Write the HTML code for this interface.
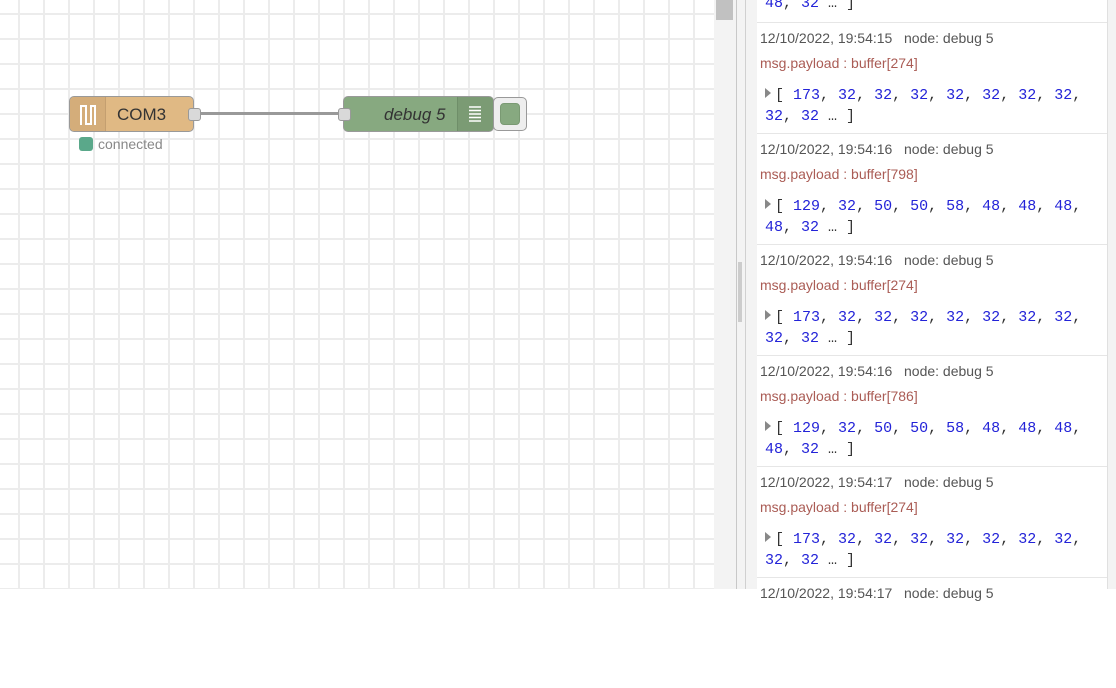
<!DOCTYPE html>
<html><head><style>
*{margin:0;padding:0;box-sizing:border-box}
body{width:1116px;height:589px;overflow:hidden;position:relative;background:#fff;font-family:"Liberation Sans",sans-serif}
#canvas{position:absolute;left:0;top:0;width:714px;height:589px;background-color:#fff;
background-image:linear-gradient(to right,#ececec 2px,transparent 2px),linear-gradient(to bottom,#ececec 2px,transparent 2px);
background-size:25px 25px;background-position:18px 13px}
.abs{position:absolute}
.msg{position:absolute;left:757px;width:350px;height:111px;border-top:1px solid #e6e6e6;background:#fff}
.d{position:absolute;left:3px;top:7px;font-size:14px;color:#555;white-space:pre}
.p{position:absolute;left:3px;top:32px;font-size:14px;color:#aa5c55}
.a{position:absolute;left:8px;top:62px;font-family:"Liberation Mono",monospace;font-size:15px;line-height:21px;color:#333;white-space:pre}
.a b{font-weight:normal;color:#2323d8}
.a i{font-style:normal;display:inline-block;width:0;height:0;border-top:5px solid transparent;border-bottom:5px solid transparent;border-left:6px solid #888;margin-right:4px;vertical-align:1px}
</style></head><body>
<div id="canvas"></div>
<!-- wire -->
<div class="abs" style="left:198px;top:112px;width:144px;height:3px;background:#999"></div>
<!-- COM3 node -->
<div class="abs" style="left:69px;top:96px;width:125px;height:36px;background:#e0b984;border:1px solid #999;border-radius:5px;overflow:hidden">
 <div class="abs" style="left:0;top:0;width:36px;height:36px;background:#d4ad7a;border-right:1px solid #c49f70"></div>
 <svg class="abs" style="left:9px;top:6px" width="18" height="24"><path d="M2 22V3H7V21H12V3H16V22" fill="none" stroke="#fff" stroke-width="2"/></svg>
 <div class="abs" style="left:47px;top:8px;font-size:17px;color:#333">COM3</div>
</div>
<div class="abs" style="left:188px;top:108px;width:13px;height:13px;background:#d9d9d9;border:1px solid #999;border-radius:3px"></div>
<div class="abs" style="left:79px;top:137px;width:14px;height:14px;background:#5aa88a;border-radius:3px"></div>
<div class="abs" style="left:98px;top:136px;font-size:14px;color:#888">connected</div>
<!-- debug node -->
<div class="abs" style="left:493px;top:97px;width:34px;height:34px;background:#eee;border:1px solid #999;border-radius:5px">
 <div class="abs" style="left:6px;top:5px;width:20px;height:22px;background:#87a980;border-radius:4px;border:1px solid #7a9a73"></div>
</div>
<div class="abs" style="left:343px;top:96px;width:151px;height:36px;background:#87a980;border:1px solid #999;border-radius:5px;overflow:hidden">
 <div class="abs" style="right:0;top:0;width:36px;height:36px;background:#7b9b74;border-left:1px solid #6f8e69"></div>
 <svg class="abs" style="right:11px;top:8px" width="14" height="20"><g stroke="#fff" stroke-width="1.5"><path d="M1 2H13M1 5.5H13M1 9H13M1 12.5H13M1 16H13"/></g></svg>
 <div class="abs" style="left:40px;top:8px;font-size:17px;font-style:italic;color:#333">debug 5</div>
</div>
<div class="abs" style="left:338px;top:108px;width:13px;height:13px;background:#d9d9d9;border:1px solid #999;border-radius:3px"></div>
<!-- sidebar -->
<div class="abs" style="left:714px;top:0;width:402px;height:589px;background:#f3f3f3"></div>
<div class="abs" style="left:716px;top:0;width:17px;height:20px;background:#c1c1c1"></div>
<div class="abs" style="left:736px;top:0;width:1px;height:589px;background:#c8c8c8"></div>
<div class="abs" style="left:745px;top:0;width:1px;height:589px;background:#d0d0d0"></div>
<div class="abs" style="left:738px;top:262px;width:4px;height:60px;background:#ccc"></div>
<div class="abs" style="left:757px;top:0;width:350px;height:589px;background:#fff"></div>
<div class="abs" style="left:1107px;top:0;width:1px;height:589px;background:#e0e0e0"></div>
<div class="a" style="left:765px;top:-7px"><b>48</b>, <b>32</b> … ]</div>

<div class="msg" style="top:22px"><div class="d">12/10/2022, 19:54:15   node: debug 5</div><div class="p">msg.payload : buffer[274]</div><div class="a"><i></i>[ <b>173</b>, <b>32</b>, <b>32</b>, <b>32</b>, <b>32</b>, <b>32</b>, <b>32</b>, <b>32</b>,
<b>32</b>, <b>32</b> … ]</div></div>
<div class="msg" style="top:133px"><div class="d">12/10/2022, 19:54:16   node: debug 5</div><div class="p">msg.payload : buffer[798]</div><div class="a"><i></i>[ <b>129</b>, <b>32</b>, <b>50</b>, <b>50</b>, <b>58</b>, <b>48</b>, <b>48</b>, <b>48</b>,
<b>48</b>, <b>32</b> … ]</div></div>
<div class="msg" style="top:244px"><div class="d">12/10/2022, 19:54:16   node: debug 5</div><div class="p">msg.payload : buffer[274]</div><div class="a"><i></i>[ <b>173</b>, <b>32</b>, <b>32</b>, <b>32</b>, <b>32</b>, <b>32</b>, <b>32</b>, <b>32</b>,
<b>32</b>, <b>32</b> … ]</div></div>
<div class="msg" style="top:355px"><div class="d">12/10/2022, 19:54:16   node: debug 5</div><div class="p">msg.payload : buffer[786]</div><div class="a"><i></i>[ <b>129</b>, <b>32</b>, <b>50</b>, <b>50</b>, <b>58</b>, <b>48</b>, <b>48</b>, <b>48</b>,
<b>48</b>, <b>32</b> … ]</div></div>
<div class="msg" style="top:466px"><div class="d">12/10/2022, 19:54:17   node: debug 5</div><div class="p">msg.payload : buffer[274]</div><div class="a"><i></i>[ <b>173</b>, <b>32</b>, <b>32</b>, <b>32</b>, <b>32</b>, <b>32</b>, <b>32</b>, <b>32</b>,
<b>32</b>, <b>32</b> … ]</div></div>
<div class="msg" style="top:577px"><div class="d">12/10/2022, 19:54:17   node: debug 5</div></div>
</body></html>
